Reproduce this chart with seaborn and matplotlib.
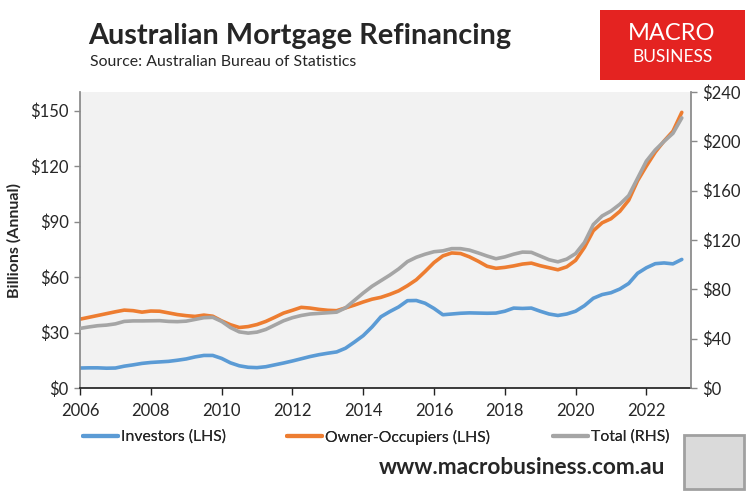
import numpy as np
import pandas as pd
import matplotlib
matplotlib.use("Agg")
import matplotlib.pyplot as plt
from matplotlib.patches import Rectangle
from matplotlib.lines import Line2D
import seaborn as sns

sns.set_theme(style="white")
plt.rcParams['font.family'] = ['Lato', 'DejaVu Sans']

# ---- data (quarterly readings, $ billions annual) ----
years = [2006.0 + 0.25 * i for i in range(69)]
investors = [10.8, 10.9, 10.9, 10.7, 10.8, 11.8, 12.5, 13.3, 13.8, 14.1, 14.4, 15.0, 15.7,
             16.8, 17.6, 17.6, 16.0, 13.6, 12.0, 11.2, 11.0, 11.5, 12.5, 13.5, 14.6, 15.8,
             17.0, 18.0, 18.8, 19.5, 21.5, 24.8, 28.3, 33.0, 38.5, 41.3, 43.8, 47.2, 47.3,
             45.8, 43.0, 39.6, 40.0, 40.4, 40.6, 40.5, 40.4, 40.5, 41.5, 43.2, 43.0, 43.2,
             41.5, 40.0, 39.2, 40.0, 41.5, 44.5, 48.5, 50.5, 51.5, 53.5, 56.5, 62.0, 65.0,
             67.2, 67.6, 67.1, 69.5]
owner_occupiers = [37.2, 38.2, 39.2, 40.2, 41.2, 42.1, 41.8, 41.0, 41.6, 41.5, 40.6, 39.7,
                   39.1, 38.7, 39.4, 38.8, 36.3, 34.2, 32.7, 33.2, 34.3, 36.0, 38.2, 40.5,
                   42.0, 43.6, 43.2, 42.5, 42.0, 41.8, 43.3, 44.8, 46.5, 48.0, 49.0, 50.6,
                   52.5, 55.3, 58.5, 63.0, 67.8, 71.4, 73.0, 72.7, 70.9, 68.5, 65.8, 64.7,
                   65.2, 66.0, 67.0, 67.5, 66.1, 65.0, 63.9, 65.5, 69.0, 76.0, 85.0, 89.3,
                   91.5, 95.5, 101.5, 112.0, 120.0, 127.5, 133.5, 138.8, 149.0]
total = [48.3, 49.5, 50.5, 51.0, 52.0, 54.0, 54.4, 54.4, 54.5, 54.6, 54.0, 53.8, 54.2, 55.6,
         57.0, 57.3, 54.0, 49.0, 45.5, 44.5, 45.3, 47.5, 51.0, 54.5, 57.0, 58.8, 60.0, 60.5,
         61.0, 61.5, 65.0, 71.0, 77.0, 82.5, 87.0, 91.5, 96.5, 102.5, 106.0, 108.5, 110.5,
         111.2, 113.0, 113.0, 111.8, 109.5, 107.0, 104.8, 106.3, 108.5, 110.2, 110.0, 107.0,
         104.0, 102.3, 104.5, 109.0, 118.0, 132.5, 139.5, 143.5, 149.0, 156.0, 170.0, 184.0,
         193.0, 200.0, 206.5, 219.0]

left_ticks = [0, 30, 60, 90, 120, 150]
right_ticks = [0, 40, 80, 120, 160, 200, 240]
x_ticks = list(range(2006, 2023, 2))

series_names = ["Investors (LHS)", "Owner-Occupiers (LHS)", "Total (RHS)"]
colors = ["#5B9BD5", "#ED7D31", "#A5A5A5"]

df = pd.DataFrame({"year": years, "Investors": investors,
                   "OwnerOcc": owner_occupiers, "Total": total})

fig = plt.figure(figsize=(7.49, 4.97), dpi=100)
fig.patch.set_facecolor("white")
ax = fig.add_axes([80 / 749, 1 - 388 / 497, (691 - 80) / 749, (388 - 92) / 497])
ax.set_facecolor("#F2F2F2")
ax2 = ax.twinx()

lw = 2.6
sns.lineplot(data=df, x="year", y="Investors", ax=ax, color=colors[0], lw=lw)
sns.lineplot(data=df, x="year", y="OwnerOcc", ax=ax, color=colors[1], lw=lw)
sns.lineplot(data=df, x="year", y="Total", ax=ax2, color=colors[2], lw=lw)

ax.set_xlim(2006, 2023.26)
ax.set_ylim(0, 160)
ax2.set_ylim(0, 240)
ax.set_xticks(x_ticks)
ax.set_xticklabels([str(t) for t in x_ticks])
ax.set_yticks(left_ticks)
ax.set_yticklabels([f"${t}" for t in left_ticks])
ax2.set_yticks(right_ticks)
ax2.set_yticklabels([f"${t}" for t in right_ticks])
ax.set_xlabel("")
ax.set_ylabel("Billions (Annual)", fontsize=11.5, fontweight="bold", labelpad=6)
ax2.set_ylabel("")
ax.grid(False)
ax2.grid(False)

for a in (ax, ax2):
    a.spines["top"].set_visible(False)
ax.spines["left"].set_color("#898989")
ax.spines["right"].set_visible(False)
ax2.spines["left"].set_visible(False)
ax2.spines["right"].set_color("#898989")
ax.spines["bottom"].set_color("#222222")
ax2.spines["bottom"].set_visible(False)

ax.tick_params(axis="x", direction="out", length=5, width=1, color="#222222",
               labelsize=12, pad=6, bottom=True)
ax.tick_params(axis="y", direction="out", length=4, width=1, color="#898989",
               labelsize=12, pad=4, left=True)
ax2.tick_params(axis="y", direction="out", length=4, width=1, color="#898989",
                labelsize=12, pad=4, right=True)

# Titles
fig.text(88 / 749, 1 - 36 / 497, "Australian Mortgage Refinancing", fontsize=20.8,
         fontweight="bold", ha="left", va="center")
fig.text(90 / 749, 1 - 62 / 497, "Source: Australian Bureau of Statistics", fontsize=11.4,
         ha="left", va="center")

# Logo box
fig.patches.append(Rectangle((600 / 749, 1 - 80 / 497), 145 / 749, 70 / 497,
                             transform=fig.transFigure, facecolor="#E42321",
                             edgecolor="none"))
fig.text(672 / 749, 1 - 33 / 497, "MACRO", color="white", fontsize=17,
         ha="center", va="center")
fig.text(672 / 749, 1 - 57 / 497, "BUSINESS", color="white", fontsize=12.5,
         ha="center", va="center")

# Legend: one entry each, placed at the reference positions
leg_x = [83, 287, 553]
for h_color, name, lx in zip(colors, series_names, leg_x):
    lg = fig.legend([Line2D([0], [0], color=h_color, lw=3)], [name], loc="center left",
                    bbox_to_anchor=(lx / 749, 1 - 437 / 497), frameon=False, fontsize=11.3,
                    handlelength=2.25, handletextpad=0.15, borderaxespad=0, borderpad=0)
    fig.add_artist(lg)

fig.text(665 / 749, 1 - 467 / 497, "www.macrobusiness.com.au", fontsize=16.3,
         fontweight="bold", ha="right", va="center")

# Fox logo placeholder
fig.patches.append(Rectangle((684 / 749, 1 - 489 / 497), 60 / 749, 54 / 497,
                             transform=fig.transFigure, facecolor="#DADADA",
                             edgecolor="#A0A0A0", lw=2))

fig.savefig("out.png", dpi=100)
